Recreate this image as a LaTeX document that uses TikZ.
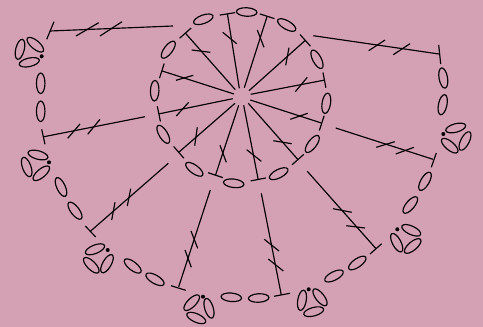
\documentclass[tikz,border=0pt]{standalone}
\usepackage{tikz}
\usetikzlibrary{arrows.meta, shapes.geometric}
\definecolor{bgc}{HTML}{D4A0B4}

\begin{document}
\begin{tikzpicture}[x=1pt, y=-1pt, line width=1.15pt,
          chn/.style={ellipse, draw, line width=1.15pt, minimum width=20.5pt, minimum height=8.5pt, inner sep=0pt},
          dot/.style={circle, fill, minimum size=4pt, inner sep=0pt},
          dc/.style={-{Bar[width=15.5pt]}, line width=1.15pt}]
        \fill[bgc] (0,0) rectangle (483,327);
        \useasboundingbox (0,0) rectangle (483,327);
        % inner ring
        \foreach \x/\y/\r [count=\n] in {203.3/19.3/20, 246.7/12/-3, 286.7/25/-30, 317/59.3/-62, 326.3/103.3/81, 312.3/144/53,
                278.7/173.7/27, 233.7/183.3/-7, 194.3/169.3/-36, 163.3/134.3/-59, 154.7/90.7/88, 168.3/49.7/53}{
          \node[chn, rotate=\r] (c\n) at (\x,\y) {}; }
        \foreach \ax/\ay/\bx/\by/\cx/\cy/\dx/\dy [count=\n] in {
                239.3/88.3/227.3/13.3/222.7/32.3/236.7/43.7, 244.3/87.7/267.3/15.7/257.3/30/264/47.3,
                249/90.7/305.7/40/289/47.7/285.7/65.3, 250.7/94.3/325/80/295.3/91.7/307.3/77.3,
                250.3/100/322.3/123.3/290.3/119.3/307.7/113.3, 248.3/103.3/298.3/160/273.3/140.7/291.7/143.7,
                243.7/105.3/258.3/180/246.7/149.7/261.3/161.3, 238.7/105.3/215.3/175.7/220/145.3/226.3/162.3,
                235/103.3/178.3/152.7/197.3/127.3/194.7/145.7, 232.7/98.7/158.3/114/176.3/116/188.7/102.3,
                234/94/161.3/70.7/176/80.3/193.3/75.3, 235.3/89.7/185/32.7/191.7/50/210.3/52.3}{
          \coordinate (a\n) at (\ax,\ay); \coordinate (b\n) at (\bx,\by);
          \draw[dc] (a\n) -- (b\n); \draw (\cx,\cy) -- (\dx,\dy); }
        % outer stitches
        \foreach \ax/\ay/\bx/\by/\gx/\gy/\hx/\hy/\cx/\cy/\dx/\dy/\ex/\ey/\fx/\fy [count=\n] in {
                173/26/50/31/54/21.7/46.7/39.3/76/36/98.7/22.7/100/36/122/21.7,
                145/116.7/44/136.7/41.7/129.3/45/144.3/67.7/138.3/80/124/87.7/134.3/100/119.3,
                168.3/163.3/90.7/231/85.3/226/95.7/237/115/202.3/111.7/220/130.7/188.7/127.3/206,
                210.3/190/178.7/286.7/171/285.7/185.7/290.3/185/250/191.3/267.3/191/231/197.7/248.3,
                261.3/193.3/281.3/295/274/296.3/290/293.3/264.3/239.3/279/251/268.3/259/283.3/271,
                307.3/171.3/375.7/248.3/381.7/243.7/370/254/333/208.7/351.7/212.3/346.3/225.7/365/228,
                335.7/128/433/159.3/436.3/153/431.3/167.3/376.3/147.3/394.7/141.7/395.7/154/414/147.3,
                313.3/35.7/439/54/438.7/45/440.7/64/368.7/50.7/385/40/393.3/54.7/410/43.7}{
          \coordinate (p\n) at (\ax,\ay); \coordinate (q\n) at (\bx,\by);
          \draw (p\n) -- (q\n); \draw (\gx,\gy) -- (\hx,\hy); \draw (\cx,\cy) -- (\dx,\dy); \draw (\ex,\ey) -- (\fx,\fy); }
        % chains between the stitches
        \foreach \x/\y/\r [count=\n] in {40.7/83.3/90, 40.7/111.3/90, 61/187/-65, 75/210.7/-53, 132.7/266/-38, 155/279.3/-30,
                231.3/297.3/-5, 258.7/298/3, 334/276/27, 357.3/263/35, 410.3/205/50, 425/181.3/60, 443.3/78/-80, 442.7/104.7/78}{
          \node[chn, rotate=\r] (o\n) at (\x,\y) {}; }
        % clusters
        \foreach \x/\y/\r [count=\n] in {35.3/44.7/-40, 20/49.3/76, 29.3/62.3/13, 38/155/-15, 26.7/167/-70, 41.3/173.3/40,
                95/249.3/22, 91.3/265.3/-45, 107/263.7/60, 191.7/302.7/45, 209/308.3/-73, 196.3/318/-24,
                302/300.3/80, 320/297.3/-52, 313.7/311.7/15, 411.3/230.3/-25, 396.7/242.7/-62, 412.7/246/40,
                455.7/128/15, 465/141/63, 449.7/145.7/-40}{
          \node[chn, rotate=\r] (e\n) at (\x,\y) {}; }
        \foreach \x/\y [count=\n] in {41.7/56.3, 49/162.3, 107.7/250, 203/296.7, 308.7/289.3, 397.3/229.3, 443.3/134}{
          \node[dot] (d\n) at (\x,\y) {}; }
\end{tikzpicture}
\end{document}
